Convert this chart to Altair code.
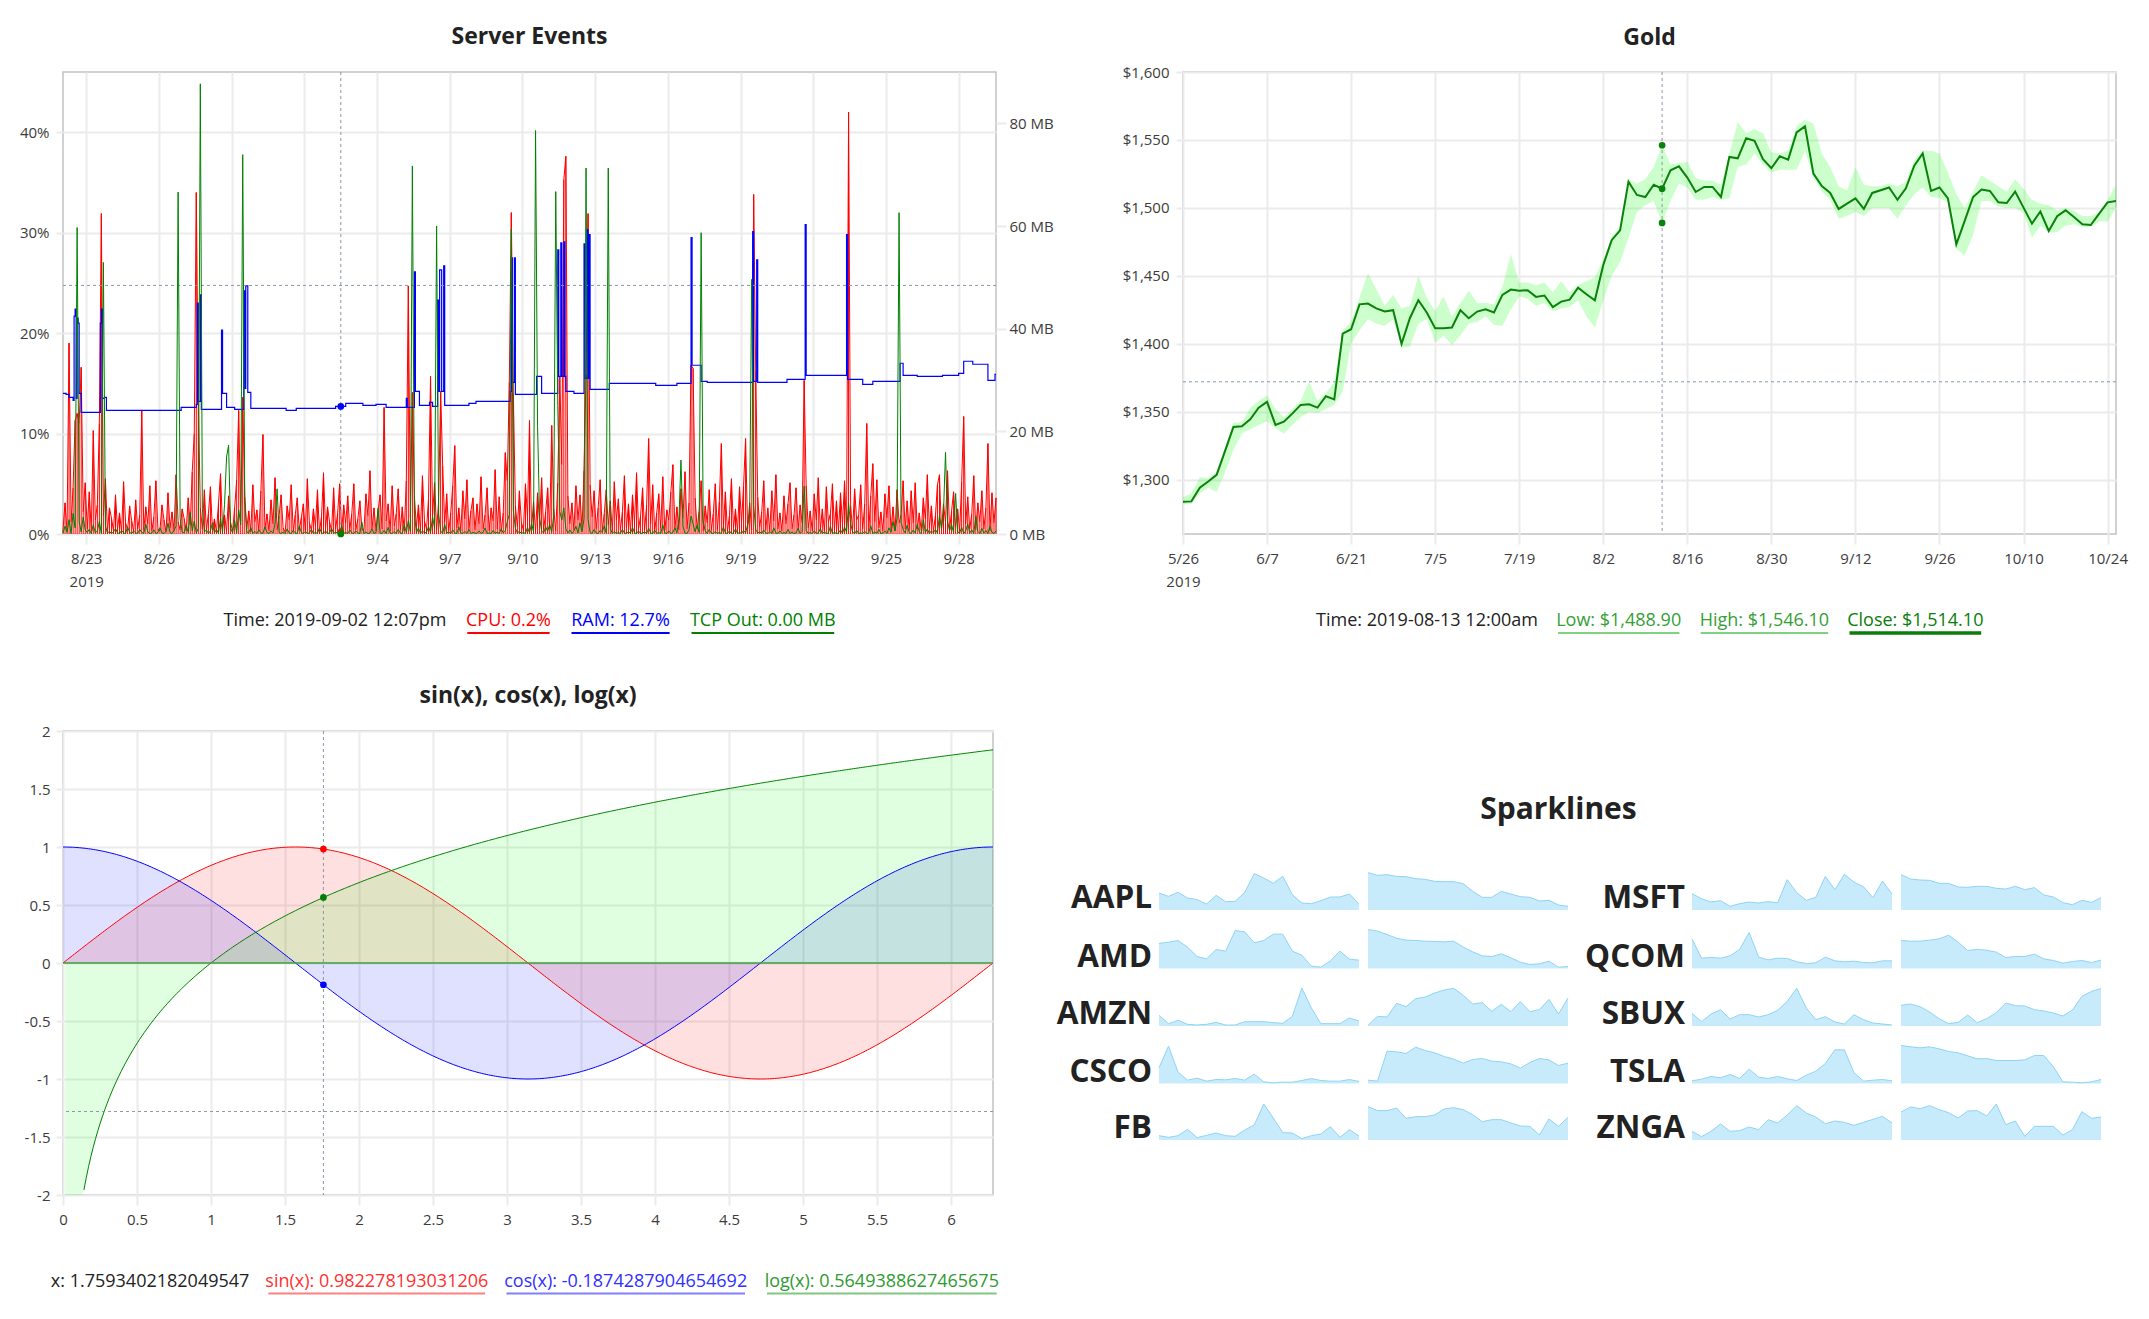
import numpy as np
import pandas as pd
import altair as alt

FONT = "Open Sans"
INK = "#222222"
LABEL = "#3c3c3c"
GRID = "#ebebeb"
FRAME = "#c2c2c2"
CROSS = "#8a99a8"

# ---------------- Server Events (2-hour samples from 2019-08-22 01:00) ----------------
cpu_pct = [
    0.4, 3.1, 0.3, 19.0, 1.2, 4.6, 11.3, 12.0, 11.0, 16.6, 2.2, 5.1,
    0.5, 4.2, 0.3, 10.3, 1.4, 2.9, 11.0, 31.9, 1.8, 5.5, 0.3, 2.6,
    1.6, 0.3, 3.9, 0.5, 2.1, 0.2, 5.2, 1.1, 0.4, 2.8, 1.3, 0.3,
    3.4, 0.5, 1.9, 12.3, 0.4, 2.7, 1.0, 4.8, 0.3, 1.7, 5.3, 0.5,
    0.3, 2.9, 1.4, 0.2, 4.1, 0.6, 2.2, 0.3, 5.9, 1.2, 0.4, 2.5,
    1.5, 0.3, 3.6, 0.9, 6.2, 10.0, 34.0, 13.6, 2.6, 0.5, 4.4, 0.4,
    2.0, 4.7, 0.4, 1.5, 0.2, 3.1, 6.0, 0.7, 1.9, 0.3, 3.8, 1.1,
    0.3, 2.6, 5.4, 12.3, 1.3, 13.6, 3.7, 0.5, 2.3, 0.2, 4.9, 1.2,
    2.4, 0.3, 4.3, 9.9, 0.5, 2.0, 0.3, 3.4, 1.0, 5.6, 0.4, 1.8,
    3.9, 0.6, 0.2, 2.8, 1.4, 4.9, 0.3, 1.9, 3.6, 0.4, 1.6, 3.0,
    0.3, 5.5, 1.1, 0.4, 2.5, 0.8, 4.4, 0.2, 1.7, 6.1, 0.6, 2.7,
    1.2, 0.3, 4.6, 0.5, 2.1, 5.0, 0.3, 2.9, 1.1, 3.8, 0.4, 2.0,
    5.0, 0.4, 1.5, 3.3, 0.6, 0.2, 4.0, 1.8, 6.3, 0.5, 2.6, 0.3,
    2.3, 3.9, 0.5, 12.6, 1.3, 3.0, 0.3, 4.8, 0.8, 2.0, 4.5, 0.4,
    2.7, 0.3, 5.3, 24.7, 1.7, 14.1, 3.8, 0.7, 2.9, 0.4, 5.8, 1.3,
    0.5, 3.5, 15.7, 1.8, 5.1, 0.4, 3.2, 14.2, 6.8, 1.1, 4.0, 0.3,
    2.1, 4.8, 8.8, 0.6, 2.6, 0.3, 4.3, 1.5, 5.4, 0.5, 2.3, 3.6,
    0.4, 3.0, 1.0, 5.7, 0.5, 1.9, 4.6, 0.3, 2.6, 1.3, 6.4, 0.5,
    3.7, 0.3, 2.1, 8.1, 5.3, 15.1, 32.0, 14.0, 2.8, 0.7, 4.3, 1.1,
    0.4, 5.0, 1.7, 11.3, 0.6, 3.2, 0.3, 4.1, 1.2, 5.6, 0.4, 2.2,
    4.6, 0.5, 10.8, 2.5, 0.3, 5.1, 15.7, 6.9, 35.3, 37.6, 3.8, 1.0,
    3.1, 0.4, 4.8, 1.4, 3.9, 0.5, 6.3, 15.9, 31.9, 4.9, 1.7, 4.3,
    0.5, 2.6, 5.4, 0.3, 2.0, 4.4, 0.9, 3.3, 0.3, 5.2, 1.4, 3.5,
    0.4, 2.2, 5.8, 0.6, 3.0, 0.3, 3.9, 1.2, 6.1, 0.5, 1.8, 4.6,
    0.4, 2.9, 9.5, 1.0, 4.9, 0.3, 2.1, 4.0, 0.6, 5.7, 0.3, 2.4,
    1.4, 4.2, 6.9, 0.5, 2.7, 0.4, 4.5, 1.6, 6.2, 0.5, 3.1, 16.8,
    16.5, 3.6, 0.5, 2.2, 5.3, 0.3, 2.8, 1.1, 4.4, 0.4, 2.0, 5.0,
    0.4, 3.2, 9.0, 0.7, 4.2, 0.3, 1.8, 5.5, 0.6, 2.5, 0.3, 4.7,
    1.2, 4.8, 9.5, 0.5, 3.1, 0.4, 33.8, 16.3, 3.7, 0.7, 2.2, 5.3,
    0.4, 2.6, 0.3, 4.3, 1.3, 5.9, 0.5, 2.1, 0.3, 3.8, 1.0, 3.0,
    5.1, 0.5, 1.9, 4.6, 0.4, 2.9, 1.1, 15.3, 4.8, 0.6, 2.3, 0.3,
    4.0, 1.4, 5.6, 0.4, 2.5, 0.3, 4.7, 1.2, 2.0, 5.0, 0.5, 3.3,
    0.3, 4.1, 1.0, 5.3, 0.5, 42.0, 2.8, 0.4, 4.5, 1.4, 1.9, 4.9,
    0.5, 3.0, 11.0, 0.3, 3.8, 7.0, 1.2, 5.4, 0.6, 2.2, 0.3, 4.0,
    1.6, 4.8, 0.4, 2.7, 0.3, 4.4, 1.1, 1.9, 5.3, 0.5, 3.3, 0.4,
    4.3, 1.1, 5.1, 0.5, 2.1, 0.3, 3.6, 1.5, 5.9, 0.6, 2.8, 0.3,
    1.8, 4.9, 5.9, 0.4, 3.0, 1.2, 6.3, 0.4, 2.3, 4.2, 0.7, 2.5,
    0.3, 5.2, 11.7, 1.0, 3.7, 0.5, 2.0, 5.8, 0.4, 3.1, 1.2, 4.3,
    0.5, 2.6, 9.0, 0.3, 4.1, 1.1, 3.6,
]
tcp_mb = [
    0.2, 1.5, 0.3, 2.8, 0.1, 4.0, 1.2, 59.7, 2.5, 0.4, 3.3, 0.8,
    0.3, 0.9, 0.1, 1.8, 0.2, 0.6, 2.4, 0.1, 52.9, 1.6, 0.2, 0.5,
    0.1, 0.4, 1.1, 0.2, 0.1, 0.7, 0.2, 0.1, 1.4, 0.3, 0.1, 0.6,
    0.2, 0.1, 0.9, 0.3, 0.1, 1.9, 0.4, 0.1, 0.2, 0.8, 0.1, 0.3,
    1.2, 0.2, 0.1, 0.5, 2.1, 0.3, 0.1, 0.7, 1.5, 66.6, 3.0, 0.4,
    0.2, 1.7, 0.3, 4.2, 0.6, 2.5, 0.2, 1.1, 87.7, 5.0, 0.4, 0.8,
    0.1, 0.6, 2.2, 0.2, 0.9, 0.1, 3.1, 0.3, 5.8, 15.0, 17.3, 1.0,
    0.3, 2.6, 0.2, 4.7, 1.8, 73.9, 6.5, 0.4, 0.2, 1.3, 0.1, 0.5,
    0.1, 0.8, 0.2, 0.1, 1.4, 0.3, 0.1, 0.6, 0.2, 2.0, 8.8, 0.3,
    0.1, 0.4, 0.1, 1.0, 0.2, 0.1, 0.7, 0.2, 0.1, 1.6, 0.3, 0.1,
    0.5, 0.1, 0.2, 0.9, 0.1, 0.3, 0.1, 1.2, 0.2, 0.1, 0.6, 0.1,
    0.2, 1.1, 0.1, 0.4, 0.1, 0.2, 1.7, 0.1, 0.3, 0.1, 0.8, 0.2,
    0.1, 0.6, 0.2, 0.1, 2.3, 0.1, 0.4, 0.1, 0.2, 1.0, 0.1, 0.3,
    5.0, 0.2, 0.1, 0.7, 0.1, 1.3, 0.2, 0.1, 0.5, 0.1, 0.9, 0.2,
    0.1, 1.8, 0.3, 2.6, 0.5, 71.7, 4.1, 0.2, 1.2, 0.1, 0.6, 0.2,
    0.3, 1.5, 0.2, 3.4, 1.1, 60.0, 3.9, 0.6, 0.1, 1.9, 0.2, 0.4,
    0.1, 0.8, 0.2, 0.1, 1.4, 0.2, 0.1, 0.5, 0.1, 0.9, 0.1, 0.3,
    0.2, 0.1, 0.6, 0.1, 0.3, 1.2, 0.1, 0.2, 0.1, 0.7, 0.1, 0.4,
    0.1, 1.0, 0.2, 0.6, 2.4, 3.8, 59.4, 4.6, 1.1, 0.2, 0.5, 0.1,
    0.3, 0.1, 1.3, 0.2, 2.1, 0.4, 78.6, 21.0, 3.2, 0.6, 0.2, 1.4,
    0.5, 1.9, 0.3, 3.6, 66.7, 25.0, 4.4, 2.7, 5.1, 1.0, 0.2, 0.8,
    0.1, 0.6, 1.5, 0.2, 2.2, 0.4, 3.0, 71.3, 2.8, 0.3, 0.1, 0.9,
    0.2, 0.1, 0.7, 0.3, 1.6, 0.2, 71.3, 1.1, 0.1, 0.5, 0.1, 0.3,
    0.1, 0.9, 0.2, 0.1, 0.5, 0.1, 1.3, 0.2, 0.1, 0.6, 0.1, 0.2,
    0.4, 0.1, 1.1, 0.2, 0.1, 0.7, 0.1, 0.3, 0.1, 1.8, 0.2, 0.1,
    0.6, 0.1, 0.3, 1.2, 0.2, 2.9, 14.4, 1.5, 0.2, 0.1, 0.8, 3.5,
    2.0, 0.4, 1.7, 0.3, 58.7, 2.5, 0.6, 0.1, 0.9, 0.2, 0.1, 0.5,
    0.1, 0.3, 0.1, 1.4, 0.2, 0.1, 0.6, 0.1, 0.2, 1.0, 0.1, 0.3,
    0.1, 0.7, 0.2, 1.8, 3.3, 49.6, 5.6, 0.9, 0.2, 0.4, 0.1, 0.8,
    0.2, 0.1, 0.5, 0.1, 1.2, 0.2, 0.1, 0.6, 0.1, 0.3, 0.1, 0.9,
    0.1, 0.4, 0.1, 0.2, 1.1, 0.1, 0.5, 9.3, 0.7, 0.1, 0.3, 0.1,
    0.6, 0.1, 0.2, 1.0, 0.1, 0.4, 0.1, 0.2, 1.5, 0.1, 0.3, 0.1,
    0.2, 0.8, 0.1, 1.4, 0.3, 6.0, 2.0, 0.4, 0.1, 0.7, 0.1, 0.2,
    0.1, 0.5, 0.1, 0.2, 1.6, 0.1, 0.4, 0.1, 0.9, 0.1, 0.2, 0.6,
    0.1, 1.2, 0.3, 2.4, 0.6, 3.1, 62.6, 2.2, 0.9, 0.2, 1.7, 0.3,
    0.1, 0.8, 0.2, 1.9, 0.4, 0.1, 2.8, 0.3, 1.0, 0.1, 0.6, 0.2,
    0.9, 0.2, 3.6, 1.1, 4.2, 15.9, 2.5, 0.6, 1.8, 0.3, 7.9, 0.4,
    0.2, 1.3, 0.1, 0.6, 2.0, 0.2, 0.8, 0.1, 3.4, 0.5, 0.1, 1.1,
    0.2, 0.7, 0.1, 1.5, 0.3, 0.1, 0.6,
]
# RAM is a step series: hour offset from the first sample, then value
ram_hour = [0, 3, 6, 10, 11, 12, 13, 14, 15, 16, 18, 37, 38, 39, 41, 43, 117, 132, 133, 134,
            136, 137, 157, 158, 162, 170, 179, 180, 181, 183, 186, 221, 231, 270, 280, 297, 310, 320, 340, 341,
            348, 349, 353, 363, 366, 371, 372, 373, 375, 377, 378, 402, 409, 443, 444, 445, 447, 448, 469, 474,
            490, 491, 493, 494, 496, 497, 498, 506, 516, 517, 519, 520, 521, 522, 541, 587, 608, 622, 623, 632,
            638, 683, 684, 687, 688, 717, 735, 736, 776, 777, 792, 802, 829, 832, 846, 871, 887, 892, 901, 916,
            923, 924]
ram_pct = [14.0, 13.9, 13.6, 13.3, 21.7, 22.4, 13.5, 21.5, 21.0, 14.0, 12.1, 21.0, 22.4, 13.5, 13.6, 12.3, 12.6, 12.9, 23.0, 13.2,
           23.8, 12.4, 20.3, 14.0, 12.6, 12.4, 24.2, 14.5, 24.7, 14.1, 12.5, 12.3, 12.5, 12.7, 13.0, 12.8, 12.9, 12.6, 13.5, 12.6,
           26.1, 14.2, 12.8, 13.1, 12.7, 23.3, 14.2, 26.3, 14.2, 26.7, 12.8, 13.0, 13.2, 14.2, 27.5, 15.1, 27.5, 13.9, 15.7, 14.0,
           28.3, 15.7, 29.0, 15.7, 29.1, 15.7, 14.2, 14.0, 28.9, 15.5, 30.3, 15.5, 29.8, 14.4, 15.0, 14.8, 15.0, 29.5, 16.8, 15.2,
           15.1, 30.1, 15.2, 27.3, 15.1, 15.4, 30.8, 15.8, 29.8, 15.4, 14.9, 15.2, 17.0, 15.8, 15.7, 15.8, 16.0, 17.2, 16.9, 15.3,
           15.9, 15.9]
server_ticks = ["2019-08-23", "2019-08-26", "2019-08-29", "2019-09-01", "2019-09-04", "2019-09-07",
                "2019-09-10", "2019-09-13", "2019-09-16", "2019-09-19", "2019-09-22", "2019-09-25", "2019-09-28"]
server_cursor = "2019-09-02 12:07"
server_legend = ["Time: 2019-09-02 12:07pm", "CPU: 0.2%", "RAM: 12.7%", "TCP Out: 0.00 MB"]

# ---------------- Gold (one value per trading day) ----------------
gold_close = [1283.8, 1284.0, 1294.0, 1298.6, 1303.5, 1321.0, 1338.8, 1339.3, 1344.4, 1353.0,
              1357.2, 1340.3, 1342.7, 1348.6, 1355.0, 1355.5, 1353.0, 1361.4, 1359.0, 1407.5,
              1410.7, 1429.0, 1429.6, 1426.0, 1423.7, 1424.7, 1400.0, 1419.0, 1432.0, 1423.0,
              1411.4, 1411.4, 1412.0, 1424.7, 1418.8, 1423.7, 1425.4, 1423.0, 1436.0, 1439.9,
              1439.0, 1439.4, 1434.5, 1435.5, 1427.0, 1431.0, 1432.5, 1441.3, 1436.4, 1432.0,
              1458.0, 1476.2, 1483.5, 1519.3, 1509.5, 1508.0, 1517.0, 1514.1, 1527.7, 1530.6,
              1522.3, 1511.7, 1515.4, 1515.4, 1508.0, 1537.5, 1536.5, 1551.2, 1549.3, 1535.8,
              1529.2, 1538.0, 1535.5, 1555.6, 1560.0, 1525.2, 1516.0, 1511.0, 1499.2, 1503.1,
              1507.0, 1499.2, 1511.0, 1513.0, 1515.0, 1506.0, 1514.4, 1531.1, 1540.0, 1512.5,
              1515.0, 1507.0, 1473.2, 1490.4, 1508.0, 1513.5, 1512.5, 1504.1, 1503.6, 1512.0,
              1500.2, 1488.4, 1497.3, 1483.0, 1493.8, 1498.2, 1493.3, 1488.0, 1487.4, 1495.8,
              1504.1, 1505.0]
gold_high = [1287, 1290, 1302, 1301, 1306, 1324, 1342, 1342, 1353, 1358,
             1362, 1352, 1346, 1352, 1358, 1372, 1358, 1364, 1372, 1410,
             1416, 1434, 1452, 1440, 1428, 1436, 1426, 1428, 1450, 1434,
             1424, 1435, 1420, 1430, 1439, 1430, 1430, 1429, 1442, 1466,
             1445, 1445, 1443, 1445, 1438, 1446, 1438, 1443, 1446, 1449,
             1462, 1479, 1486, 1521, 1518, 1521, 1530, 1546.1, 1532, 1533,
             1534, 1522, 1520, 1520, 1517, 1540, 1563, 1555, 1558, 1555,
             1541, 1540, 1542, 1560, 1565, 1562, 1540, 1530, 1516, 1513,
             1530, 1517, 1516, 1516, 1518, 1516, 1519, 1535, 1542, 1542,
             1540, 1526, 1510, 1500, 1512, 1524, 1520, 1516, 1512, 1521,
             1514, 1506, 1503, 1502, 1498, 1500, 1498, 1494, 1494, 1497,
             1506, 1517]
gold_low = [1282, 1282, 1290, 1294, 1291, 1305, 1322, 1334, 1337, 1340,
            1343, 1338, 1334, 1340, 1346, 1350, 1349, 1352, 1355, 1365,
            1400, 1410, 1418, 1415, 1413, 1418, 1397, 1398, 1415, 1418,
            1401, 1406, 1399, 1406, 1415, 1416, 1420, 1414, 1413, 1425,
            1435, 1433, 1428, 1430, 1424, 1426, 1427, 1432, 1420, 1412,
            1432, 1450, 1460, 1478, 1497, 1502, 1505, 1488.9, 1505, 1518,
            1515, 1506, 1506, 1508, 1506, 1507, 1530, 1532, 1540, 1532,
            1526, 1528, 1528, 1528, 1542, 1522, 1512, 1506, 1492, 1494,
            1497, 1494, 1500, 1500, 1500, 1492, 1502, 1510, 1515, 1508,
            1507, 1504, 1470, 1465, 1480, 1505, 1505, 1501, 1500, 1500,
            1496, 1478, 1487, 1482, 1482, 1487, 1488, 1486, 1486, 1490,
            1490, 1500]
gold_tick_labels = ["5/26", "6/7", "6/21", "7/5", "7/19", "8/2", "8/16", "8/30", "9/12", "9/26", "10/10", "10/24"]
gold_cursor = 57
gold_legend = ["Time: 2019-08-13 12:00am", "Low: $1,488.90", "High: $1,546.10", "Close: $1,514.10"]

# ---------------- sin / cos / log ----------------
fn_cursor = 1.7593402182049547
fn_legend = ["x: 1.7593402182049547", "sin(x): 0.982278193031206",
             "cos(x): -0.1874287904654692", "log(x): 0.5649388627465675"]

# ---------------- Sparklines ----------------
aapl_a = [51, 41, 53, 36, 31, 18, 44, 25, 26, 53, 109, 96, 80, 101, 46, 21, 19, 28, 39, 39, 48, 18]
aapl_b = [112, 104, 106, 101, 100, 94, 92, 86, 85, 85, 79, 56, 38, 38, 56, 48, 40, 38, 27, 29, 15, 11]
amd_a = [75, 79, 84, 64, 36, 29, 57, 52, 114, 110, 77, 84, 103, 103, 52, 40, 7, 4, 23, 52, 28, 25]
amd_b = [117, 112, 102, 91, 85, 84, 82, 81, 80, 82, 64, 50, 38, 36, 44, 32, 19, 12, 14, 22, 4, 6]
amzn_a = [32, 7, 17, 5, 3, 5, 11, 3, 3, 13, 13, 13, 10, 8, 29, 114, 54, 7, 7, 7, 24, 15]
amzn_b = [2, 29, 27, 68, 58, 82, 87, 99, 108, 113, 92, 66, 70, 44, 65, 43, 73, 43, 49, 80, 36, 84]
csco_a = [47, 112, 34, 10, 16, 7, 12, 11, 15, 10, 28, 5, 2, 4, 4, 9, 15, 9, 7, 7, 12, 6]
csco_b = [10, 7, 97, 95, 90, 109, 99, 92, 81, 73, 61, 72, 75, 67, 65, 59, 46, 63, 75, 71, 54, 61]
fb_a = [13, 8, 13, 32, 7, 14, 21, 13, 11, 30, 45, 108, 66, 22, 21, 4, 13, 18, 40, 8, 31, 12]
fb_b = [100, 88, 88, 96, 65, 70, 70, 75, 93, 97, 91, 76, 55, 61, 61, 51, 42, 41, 15, 63, 41, 68]
msft_a = [49, 34, 24, 28, 11, 19, 24, 21, 25, 22, 91, 52, 29, 38, 101, 61, 107, 84, 70, 37, 87, 48]
msft_b = [106, 93, 90, 89, 80, 80, 69, 68, 71, 71, 65, 63, 71, 61, 67, 45, 39, 22, 16, 29, 23, 37]
qcom_a = [89, 31, 33, 31, 38, 57, 108, 34, 26, 31, 30, 20, 15, 17, 34, 23, 20, 22, 18, 17, 23, 23]
qcom_b = [84, 82, 82, 85, 89, 100, 79, 54, 57, 55, 49, 33, 36, 36, 43, 29, 24, 16, 21, 24, 18, 25]
sbux_a = [38, 13, 36, 49, 21, 34, 34, 27, 34, 47, 74, 113, 54, 19, 28, 12, 6, 34, 19, 9, 6, 3]
sbux_b = [62, 66, 58, 42, 22, 7, 11, 33, 10, 22, 40, 69, 61, 60, 49, 45, 39, 30, 48, 89, 104, 112]
tsla_a = [8, 13, 21, 17, 27, 15, 43, 19, 15, 21, 14, 9, 25, 37, 60, 101, 101, 33, 7, 10, 12, 8]
tsla_b = [114, 110, 107, 110, 104, 96, 92, 83, 74, 75, 69, 69, 69, 71, 84, 84, 50, 5, 4, 2, 5, 12]
znga_a = [26, 10, 26, 48, 26, 28, 39, 31, 61, 51, 75, 103, 81, 69, 49, 57, 53, 44, 53, 62, 71, 51]
znga_b = [84, 99, 94, 103, 91, 82, 66, 87, 88, 72, 108, 46, 57, 11, 41, 41, 41, 15, 31, 85, 65, 69]
left_names = ["AAPL", "AMD", "AMZN", "CSCO", "FB"]
right_names = ["MSFT", "QCOM", "SBUX", "TSLA", "ZNGA"]
spark_series = {
    "AAPL": (aapl_a, aapl_b), "AMD": (amd_a, amd_b), "AMZN": (amzn_a, amzn_b),
    "CSCO": (csco_a, csco_b), "FB": (fb_a, fb_b), "MSFT": (msft_a, msft_b),
    "QCOM": (qcom_a, qcom_b), "SBUX": (sbux_a, sbux_b), "TSLA": (tsla_a, tsla_b),
    "ZNGA": (znga_a, znga_b),
}


def ms(ts):
    return int(pd.Timestamp(ts).value // 1_000_000)


def ax(**kw):
    base = dict(title=None, domain=False, grid=True, gridColor=GRID, gridWidth=2,
                tickColor=GRID, tickWidth=2, tickSize=7, labelPadding=7, labelFlush=False)
    base.update(kw)
    return alt.Axis(**base)


def legend(items, base_y):
    out = []
    for text, color, cx, span, lcolor, lw in items:
        d = pd.DataFrame({"label": [text]})
        out.append(alt.Chart(d).mark_text(font=FONT, fontSize=18, color=color, align="center",
                                          baseline="alphabetic")
                   .encode(text="label:N", x=alt.value(cx), y=alt.value(base_y)))
        if span:
            out.append(alt.Chart(d).mark_rule(color=lcolor, strokeWidth=lw)
                       .encode(x=alt.value(span[0]), x2=alt.value(span[1]), y=alt.value(base_y + 7)))
    return out


def title(text, offset):
    return alt.TitleParams(text, font=FONT, fontSize=23, fontWeight="bold", color=INK,
                           offset=offset, baseline="alphabetic", anchor="middle", frame="group")


frame = alt.ViewBackground(stroke=FRAME, strokeWidth=1.5)

# ---------------- Server Events chart ----------------
HOUR = 3_600_000
T0 = ms("2019-08-22 01:00")
srv = pd.DataFrame({"t": [T0 + 2 * HOUR * k for k in range(len(cpu_pct))], "cpu": cpu_pct, "tcp": tcp_mb})
ram = pd.DataFrame({"t": [T0 + HOUR * h for h in ram_hour], "ram": ram_pct})
tc = ms(server_cursor)

sx = alt.X("t:T", scale=alt.Scale(type="utc", domain=[T0, T0 + HOUR * ram_hour[-1]], nice=False),
           axis=ax(values=[ms(d) for d in server_ticks], tickSize=10, labelPadding=7, labelLineHeight=23,
                   labelExpr="datum.index == 0 ? [utcFormat(datum.value, '%-m/%-d'), '2019'] : utcFormat(datum.value, '%-m/%-d')"))


def sy(field):
    return alt.Y(f"{field}:Q", scale=alt.Scale(domain=[0, 46], nice=False),
                 axis=ax(values=[0, 10, 20, 30, 40], labelExpr="datum.value + '%'"))


cross_s = pd.DataFrame({"t": [tc], "cpu": [24.75]})
dots_s = pd.DataFrame({"t": [tc, tc], "cpu": [0.2, 12.7], "c": ["#ff0000", "#0000ff"]})
left = alt.layer(
    alt.Chart(srv).mark_rule(color="#ff0000", strokeWidth=1).encode(x=sx, y=sy("cpu"), y2=alt.datum(0)),
    alt.Chart(srv).mark_line(color="#ff0000", strokeWidth=1).encode(x=sx, y=sy("cpu")),
    alt.Chart(ram).mark_line(color="#0000ff", strokeWidth=1.2, interpolate="step-after").encode(x=sx, y=sy("ram")),
    alt.Chart(cross_s).mark_rule(color=CROSS, strokeDash=[3, 3], strokeWidth=1).encode(x=sx),
    alt.Chart(cross_s).mark_rule(color=CROSS, strokeDash=[3, 3], strokeWidth=1).encode(y=sy("cpu")),
    alt.Chart(dots_s).mark_circle(size=45, opacity=1).encode(x=sx, y=sy("cpu"), color=alt.Color("c:N", scale=None)),
    *legend([
        (server_legend[0], INK, 272, None, None, 0),
        (server_legend[1], "#ff0000", 445.4, (404.3, 486.6), "#ff0000", 2),
        (server_legend[2], "#0000ff", 557.5, (508.5, 606.6), "#0000ff", 2),
        (server_legend[3], "#008000", 699.8, (628.5, 771.2), "#008000", 2),
    ], 554),
)
ty = alt.Y("tcp:Q", scale=alt.Scale(domain=[0, 90], nice=False),
           axis=ax(orient="right", values=[0, 20, 40, 60, 80], labelExpr="datum.value + ' MB'",
                   grid=False, tickSize=10, labelPadding=3))
right = alt.layer(
    alt.Chart(srv).mark_line(color="#008000", strokeWidth=1).encode(x=sx, y=ty),
    alt.Chart(pd.DataFrame({"t": [tc], "tcp": [0.0]})).mark_circle(size=45, color="#008000", opacity=1).encode(x=sx, y=ty),
)
server = alt.layer(left, right).resolve_scale(y="independent").properties(
    width=933, height=462, title=title("Server Events", 4.3), view=frame)

# ---------------- Gold chart ----------------
gdf = pd.DataFrame({"i": range(len(gold_close)), "close": gold_close, "low": gold_low, "high": gold_high})
g_idx = [10 * k for k in range(len(gold_tick_labels))]
g_lab = "[" + ",".join(f"'{s}'" for s in gold_tick_labels) + "]"
g_val = "[" + ",".join(str(v) for v in g_idx) + "]"
gx = alt.X("i:Q", scale=alt.Scale(domain=[0, len(gold_close) - 1], nice=False, zero=False),
           axis=ax(values=g_idx, tickSize=10, labelPadding=7, labelLineHeight=23,
                   labelExpr=f"datum.value == 0 ? [{g_lab}[0], '2019'] : {g_lab}[indexof({g_val}, datum.value)]"))


def gy(field):
    return alt.Y(f"{field}:Q", scale=alt.Scale(domain=[1260, 1600], nice=False, zero=False),
                 axis=ax(values=list(range(1300, 1601, 50)), format="$,.0f"))


g_cross = pd.DataFrame({"i": [gold_cursor], "close": [1372.0]})
g_dots = pd.DataFrame({"i": [gold_cursor] * 3,
                       "close": [gold_high[gold_cursor], gold_close[gold_cursor], gold_low[gold_cursor]]})
gold = alt.layer(
    alt.Chart(gdf).mark_area(color="#00ff00", opacity=0.2).encode(x=gx, y=gy("low"), y2="high:Q"),
    alt.Chart(gdf).mark_line(color="#0a820a", strokeWidth=2).encode(x=gx, y=gy("close")),
    alt.Chart(g_cross).mark_rule(color=CROSS, strokeDash=[3, 3], strokeWidth=1).encode(x=gx),
    alt.Chart(g_cross).mark_rule(color=CROSS, strokeDash=[3, 3], strokeWidth=1).encode(y=gy("close")),
    alt.Chart(g_dots).mark_circle(size=45, color="#0a820a", opacity=1).encode(x=gx, y=gy("close")),
    *legend([
        (gold_legend[0], INK, 244, None, None, 0),
        (gold_legend[1], "#35a035", 435.7, (375.1, 496.4), "#7ed37e", 2),
        (gold_legend[2], "#35a035", 581.4, (517.7, 645.2), "#7ed37e", 2),
        (gold_legend[3], "#0a7d0a", 732.3, (666.5, 798.2), "#0a7d0a", 3.5),
    ], 554),
).properties(width=933, height=462, title=title("Gold", -2.5), view=frame)

# ---------------- sin / cos / log chart ----------------
xs = np.linspace(0, 2 * np.pi, 401)
trig = pd.DataFrame({"x": xs, "sin": np.sin(xs), "cos": np.cos(xs)})
logs = pd.DataFrame({"x": xs[1:], "log": np.log(xs[1:])})
log_line = logs[logs["log"] >= -2.05]

fx = alt.X("x:Q", scale=alt.Scale(domain=[0, 2 * np.pi], nice=False, zero=False),
           axis=ax(values=[0, 0.5, 1, 1.5, 2, 2.5, 3, 3.5, 4, 4.5, 5, 5.5, 6],
                   labelExpr="'' + datum.value", tickSize=10, labelPadding=7))


def fy(field):
    return alt.Y(f"{field}:Q", scale=alt.Scale(domain=[-2, 2], nice=False, clamp=True),
                 axis=ax(values=[-2, -1.5, -1, -0.5, 0, 0.5, 1, 1.5, 2], labelExpr="'' + datum.value",
                         labelPadding=6))


f_cross = pd.DataFrame({"x": [fn_cursor], "sin": [-1.28]})
f_dots = pd.DataFrame({"x": [fn_cursor] * 3,
                       "sin": [np.sin(fn_cursor), np.cos(fn_cursor), np.log(fn_cursor)],
                       "c": ["#ff0000", "#0000ff", "#008000"]})
one = pd.DataFrame({"z": [0]})
funcs = alt.layer(
    alt.Chart(trig).mark_area(color="#ff0000", opacity=0.12).encode(x=fx, y=fy("sin"), y2=alt.datum(0)),
    alt.Chart(trig).mark_area(color="#0000ff", opacity=0.12).encode(x=fx, y=fy("cos"), y2=alt.datum(0)),
    alt.Chart(logs).mark_area(color="#00ff00", opacity=0.12).encode(x=fx, y=fy("log"), y2=alt.datum(0)),
    alt.Chart(trig).mark_line(color="#ff0000", strokeWidth=1).encode(x=fx, y=fy("sin")),
    alt.Chart(trig).mark_line(color="#0000ff", strokeWidth=1).encode(x=fx, y=fy("cos")),
    alt.Chart(log_line).mark_line(color="#008000", strokeWidth=1).encode(x=fx, y=fy("log")),
    alt.Chart(one).mark_rule(color="#3f9f3f", strokeWidth=1.5).encode(y=alt.datum(0)),
    alt.Chart(f_cross).mark_rule(color=CROSS, strokeDash=[3, 3], strokeWidth=1).encode(x=fx),
    alt.Chart(f_cross).mark_rule(color=CROSS, strokeDash=[3, 3], strokeWidth=1).encode(y=fy("sin")),
    alt.Chart(f_dots).mark_circle(size=45, opacity=1).encode(x=fx, y=fy("sin"), color=alt.Color("c:N", scale=None)),
    *legend([
        (fn_legend[0], INK, 87.1, None, None, 0),
        (fn_legend[1], "#ff3030", 313.8, (205.4, 422.1), "#ff8080", 2),
        (fn_legend[2], "#3030ff", 562.7, (443.4, 682.0), "#8080ff", 2),
        (fn_legend[3], "#2f9a2f", 818.8, (704.0, 933.7), "#80c880", 2),
    ], 555.5),
).properties(width=930, height=464, title=title("sin(x), cos(x), log(x)", -1.5), view=frame)

# ---------------- Sparklines panel ----------------
SPARK = "#b0e3fa"
SPARK_LINE = "#8fd3f6"
GAP = 3


def spark(vals):
    d = pd.DataFrame({"i": range(len(vals)), "v": vals})
    return alt.Chart(d).mark_area(color=SPARK, line={"color": SPARK_LINE, "strokeWidth": 1}).encode(
        x=alt.X("i:Q", axis=None, scale=alt.Scale(domain=[0, len(vals) - 1], nice=False, zero=False)),
        y=alt.Y("v:Q", axis=None, scale=alt.Scale(domain=[0, 117], nice=False)),
    ).properties(width=200, height=39)


def name_label(name, w):
    d = pd.DataFrame({"t": [name]})
    return alt.Chart(d).mark_text(font=FONT, fontSize=31.5, fontWeight="bold", color=INK, align="right",
                                  baseline="alphabetic").encode(
        text="t:N", x=alt.value(w), y=alt.value(37)).properties(width=w, height=39)


rows = []
for ln, rn in zip(left_names, right_names):
    rows.append(alt.hconcat(
        name_label(ln, 112), spark(spark_series[ln][0]), spark(spark_series[ln][1]),
        name_label(rn, 110), spark(spark_series[rn][0]), spark(spark_series[rn][1]),
        spacing=GAP))

PANEL_W = 112 + 110 + 4 * 200 + 5 * GAP
head = alt.Chart(pd.DataFrame({"t": ["Sparklines"]})).mark_text(
    font=FONT, fontSize=30, fontWeight="bold", color=INK, align="center", baseline="alphabetic"
).encode(text="t:N", x=alt.value(PANEL_W / 2), y=alt.value(88)).properties(width=PANEL_W, height=138)
sparks = alt.vconcat(head, alt.vconcat(*rows, spacing=11.5), spacing=0)

# ---------------- compose ----------------
top = alt.hconcat(server, gold, spacing=67)
bottom = alt.hconcat(funcs, sparks, spacing=39)
chart = alt.vconcat(top, bottom, spacing=47).properties(
    padding={"left": 10, "top": 17, "right": 0, "bottom": 0}
).configure(font=FONT).configure_view(stroke="transparent").configure_axis(
    labelFont=FONT, labelFontSize=15, labelColor=LABEL
)

chart.save("out.html", embed_options={"renderer": "svg", "actions": False})
